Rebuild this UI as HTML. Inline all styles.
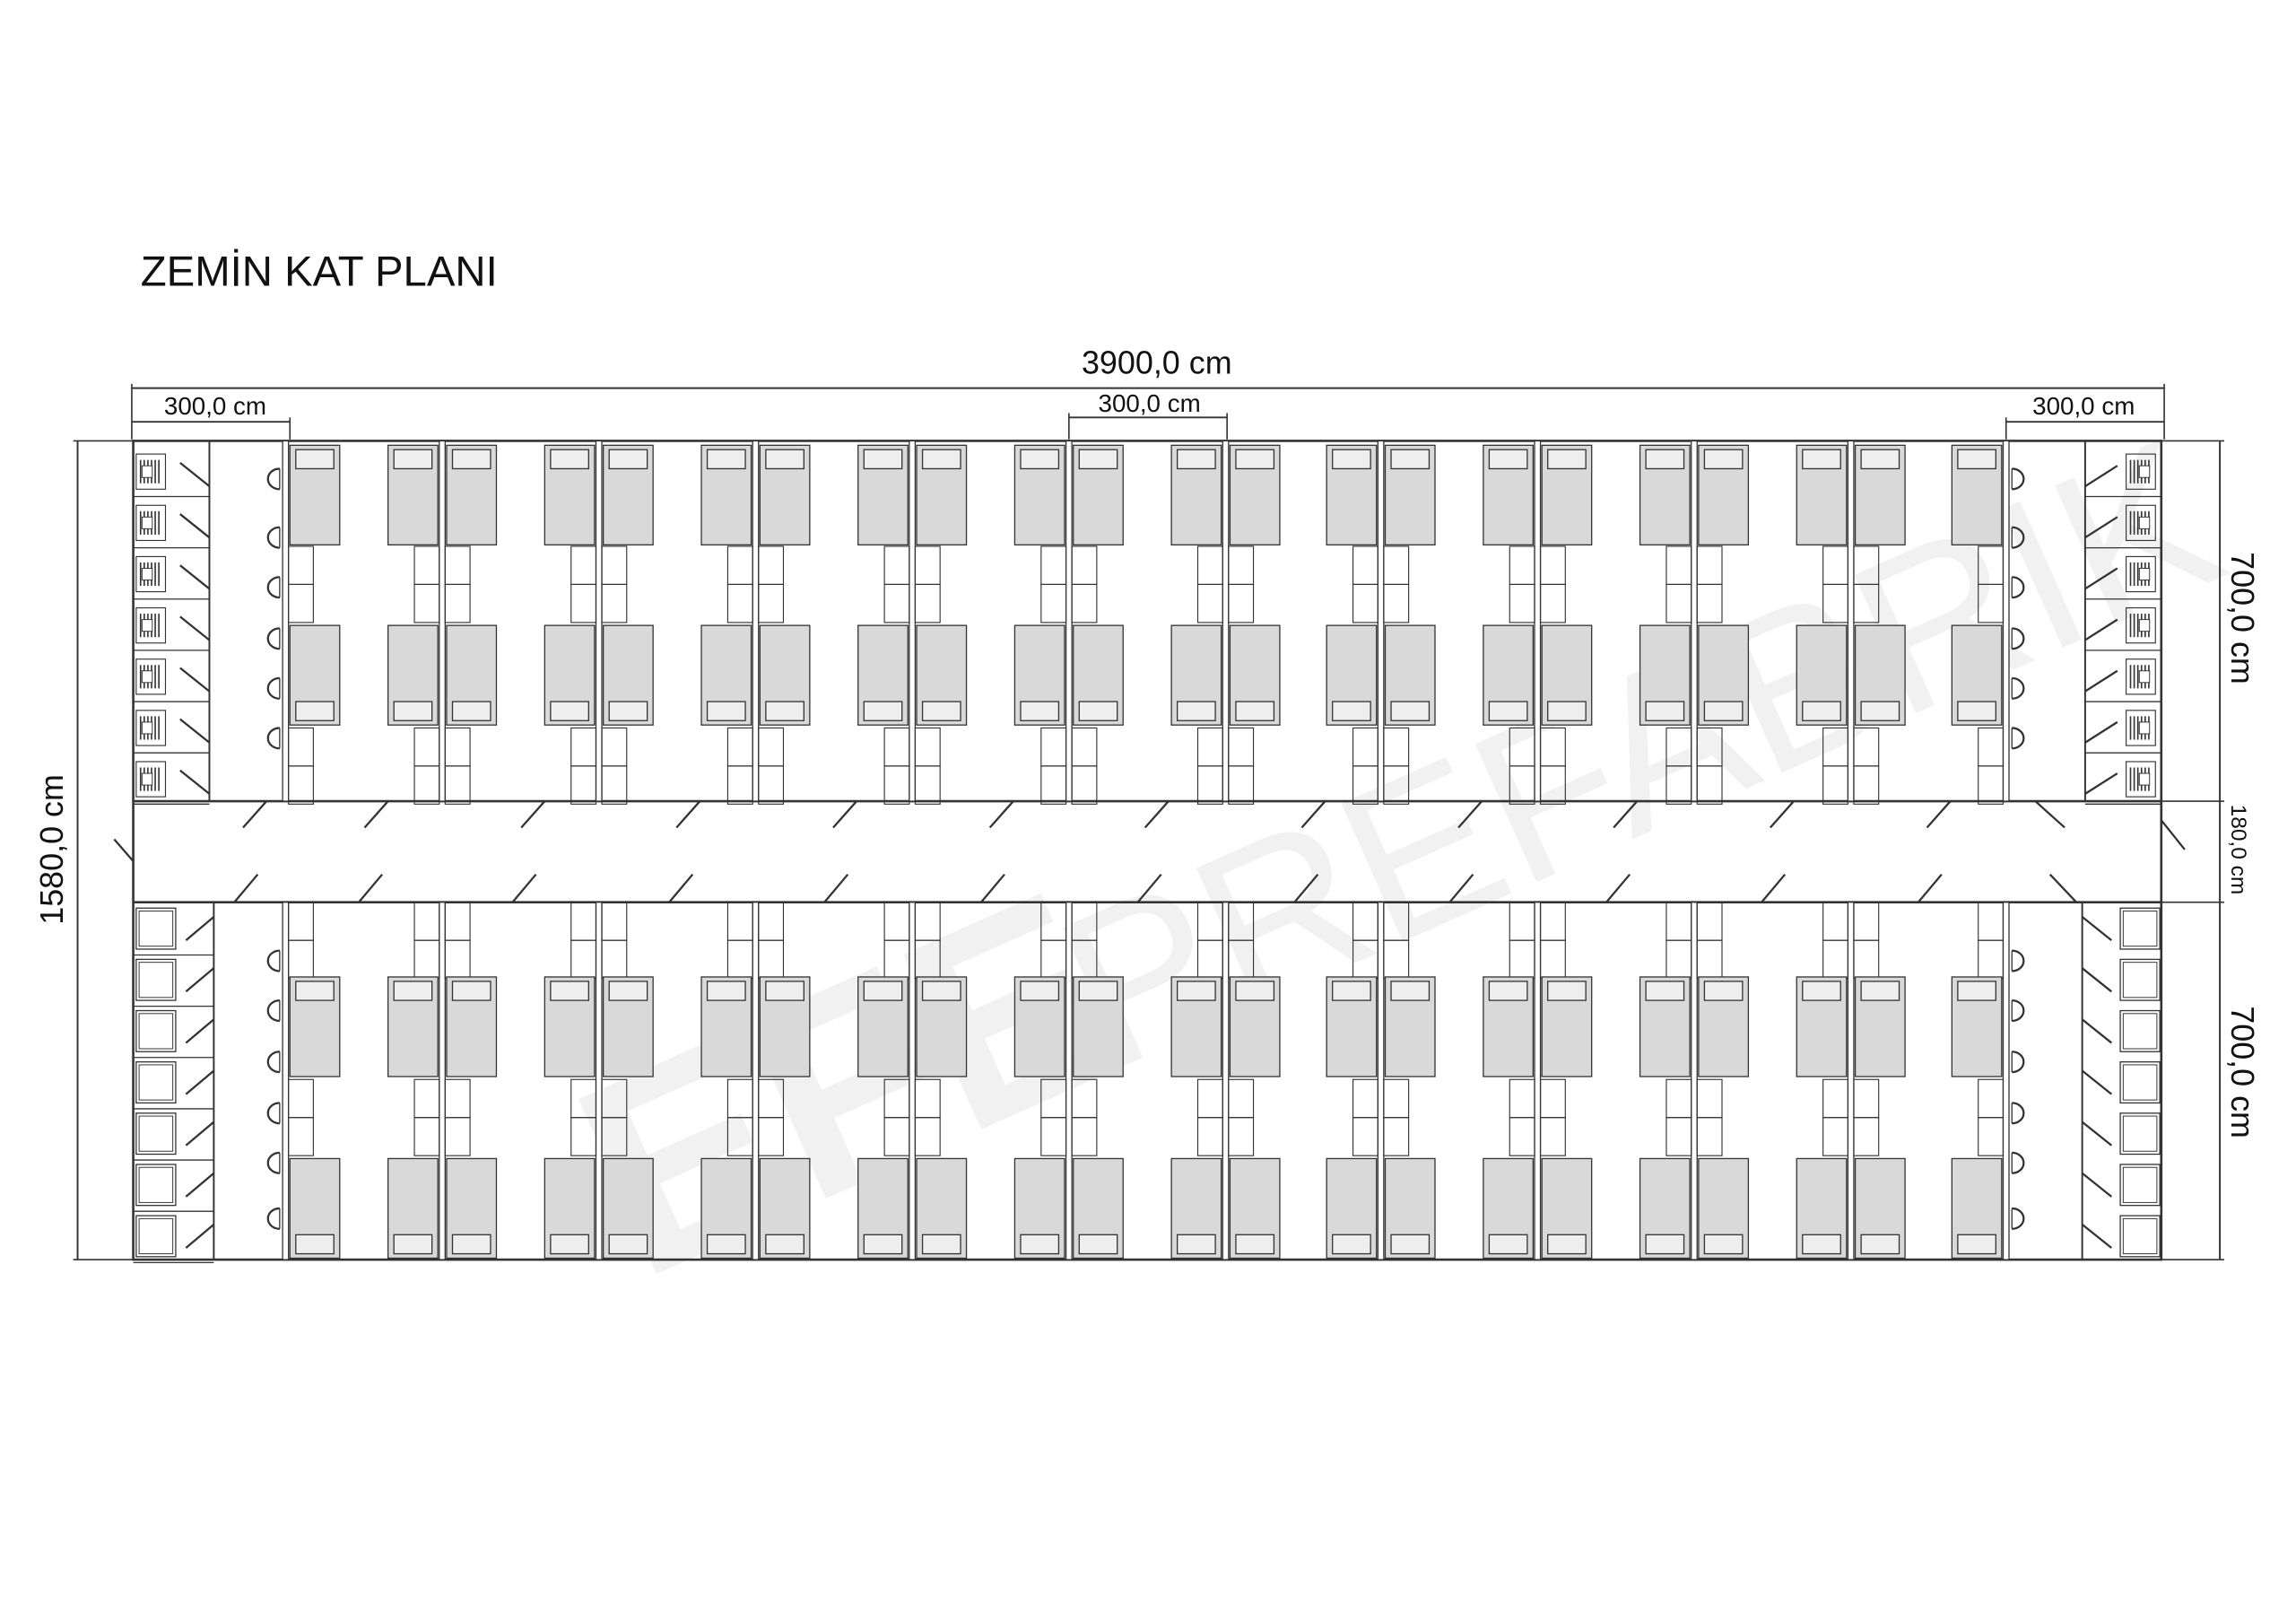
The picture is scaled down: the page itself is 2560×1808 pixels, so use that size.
<!DOCTYPE html>
<html><head><meta charset="utf-8"><style>
html,body{margin:0;padding:0;background:#fff;}
svg{display:block;}
text{font-family:"Liberation Sans",sans-serif;fill:#111;}
</style></head><body>
<svg id="s" xmlns="http://www.w3.org/2000/svg" width="2560" height="1808" viewBox="0 0 1568 1107.4">
<rect width="1568" height="1107.4" fill="#fff"/>
<g opacity="0.05" transform="rotate(-24 800 560)">
<text x="340" y="700" font-size="190" font-weight="bold" style="fill:#000">EFE</text>
<text x="690" y="700" font-size="150" style="fill:#000">PREFABRİK</text>
</g>
<text x="96" y="195" font-size="29">ZEMİN KAT PLANI</text>
<text x="790" y="255" font-size="22" text-anchor="middle">3900,0 cm</text>
<text x="147" y="283" font-size="17" text-anchor="middle">300,0 cm</text>
<text x="785" y="281" font-size="17" text-anchor="middle">300,0 cm</text>
<text x="1423" y="283" font-size="17" text-anchor="middle">300,0 cm</text>
<text transform="translate(43 580) rotate(-90)" font-size="22" text-anchor="middle">1580,0 cm</text>
<text transform="translate(1524 422) rotate(90)" font-size="22" text-anchor="middle">700,0 cm</text>
<text transform="translate(1524 732) rotate(90)" font-size="22" text-anchor="middle">700,0 cm</text>
<text transform="translate(1524 580) rotate(90)" font-size="15" text-anchor="middle">180,0 cm</text>
<g id="g" stroke="#333" stroke-width="1" fill="none"></g>
</svg>
<script>
var g=document.getElementById('g'),h='';
function L(a,b,c,d,w){h+='<line x1="'+a+'" y1="'+b+'" x2="'+c+'" y2="'+d+'"'+(w?' stroke-width="'+w+'"':'')+'/>';}
function R(x,y,w,hh,f,sw){h+='<rect x="'+x+'" y="'+y+'" width="'+w+'" height="'+hh+'"'+(f?' fill="'+f+'"':'')+(sw?' stroke-width="'+sw+'"':'')+'/>';}
L(90,265,1478,265,1.2);L(90,262,90,300);L(1478,262,1478,300);
L(90,288,198,288,1.2);L(198,285,198,300);
L(730,285,838,285,1.2);L(730,282,730,300);L(838,282,838,300);
L(1370,288,1478,288,1.2);L(1370,285,1370,300);
L(53,301,53,860,1.2);L(50,301,91,301);L(50,860,91,860);
L(1516,301,1516,860,1.2);L(1476,301,1519,301);L(1476,860,1519,860);L(1476,547,1519,547);L(1476,616,1519,616);
R(91,301,1385,559,null,1.6);
L(91,547,1476,547,1.6);L(91,616,1476,616,1.6);
var W=[195,302,409,516,623,730,837,943,1050,1157,1264,1370];
W.forEach(function(x){R(x-2,301,4,246,'#fff',0.8);R(x-2,616,4,244,'#fff',0.8);});
function bed(x,y,top){R(x,y,34,68,'#d9d9d9',0.8);var py=top?y+3:y+52;R(x+4,py,26,13,'#eee',0.8);}
function desk(x,y){R(x,y,17,26,null,0.7);R(x,y+26,17,26,null,0.7);}
for(var i=0;i<11;i++){var a=W[i]+2,b=W[i+1]-2;
 bed(a+1,304,1);bed(b-35,304,1);bed(a+1,427,0);bed(b-35,427,0);
 desk(a,373);desk(b-17,373);desk(a,497);desk(b-17,497);
 desk(a,616);desk(b-17,616);bed(a+1,667,1);bed(b-35,667,1);desk(a,737);desk(b-17,737);bed(a+1,791,0);bed(b-35,791,0);
}
[182,265,372,478,585,692,798,905,1012,1118,1225,1332].forEach(function(x){L(x,547,x-16,565,1.4);});
[160,245,350,457,563,670,777,884,990,1097,1203,1310].forEach(function(x){L(x,616,x+16,597,1.4);});
L(1390,547,1410,565,1.4);L(1400,597,1418,616,1.4);L(78,573,91,588,1.4);L(1476,560,1492,580,1.4);
function wc(x,y,flip){R(x,y,20,24,null,0.7);for(var k=0;k<6;k++){L(x+3+k*2.5,y+4,x+3+k*2.5,y+20,1);}R(x+(flip?9:4),y+8,7,8,'#fff',0.6);}
for(var r=0;r<7;r++){var y=304+r*35;
 L(91,y+35,143,y+35,0.8);wc(93,y+6,0);L(123,y+12,143,y+28,1.4);
 L(1424,y+35,1476,y+35,0.8);wc(1452,y+6,1);L(1424,y+28,1446,y+14,1.4);
 var by=618+r*35;L(91,by+34,146,by+34,0.8);R(93,by+2,27,28,null,0.8);R(95,by+4,23,24,null,0.6);L(127,by+24,146,by+8,1.4);
 R(1448,by+2,27,28,null,0.8);R(1450,by+4,23,24,null,0.6);L(1442,by+24,1422,by+8,1.4);
}
L(143,301,143,547,1.2);L(1424,301,1424,547,1.2);L(146,616,146,860,1.2);L(1422,616,1422,860,1.2);
function sink(x,y,d){h+='<path d="M'+x+' '+(y-7)+' A8 7 0 0 '+(d>0?1:0)+' '+x+' '+(y+7)+'" stroke-width="1.4"/>';L(x,y-7,x,y+7,0.8);}
[327,367,401,436,470,504].forEach(function(y){sink(191,y,-1);sink(1374,y,1);});
[656,690,725,760,794,832].forEach(function(y){sink(191,y,-1);sink(1374,y,1);});
g.innerHTML=h;
</script>
</body></html>
